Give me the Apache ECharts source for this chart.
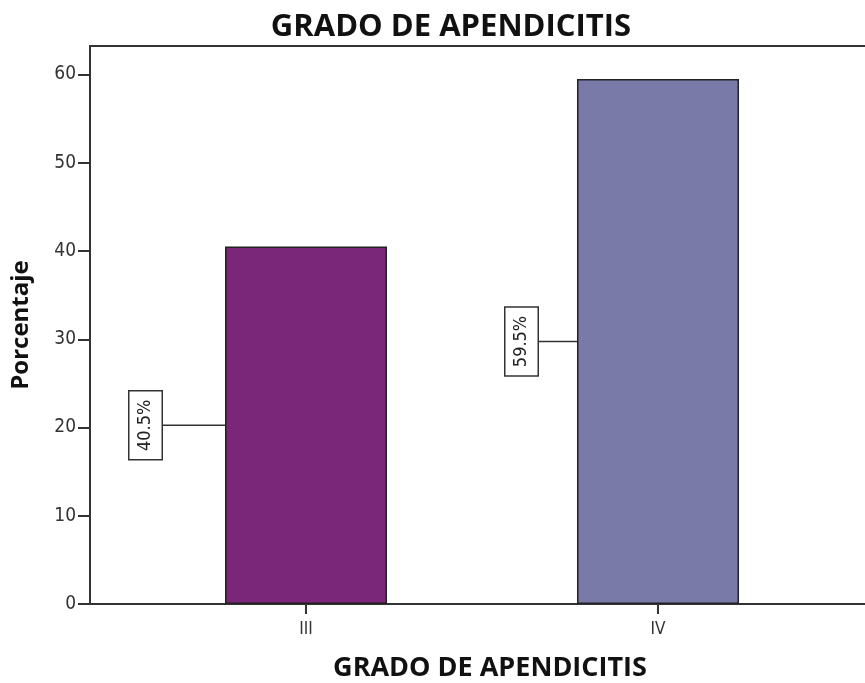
<!DOCTYPE html>
<html>
<head>
<meta charset="utf-8">
<script src="https://cdn.jsdelivr.net/npm/echarts@6/dist/echarts.min.js"></script>
<style>
  html, body { margin: 0; padding: 0; background: #fff; }
  #chart { width: 865px; height: 683px; }
</style>
</head>
<body>
<div id="chart"></div>
<script>
// Grado de apendicitis: porcentaje de pacientes por grado
const categories = ['III', 'IV'];
const percentages = [40.5, 59.5];
const barColors = ['#7a2779', '#797aa8'];
const yMin = 0;
const yMax = 60;
const yStep = 10;

// leader-line length (px) between each value box and its bar
const leaderLength = [63, 39];
const BAR_WIDTH = 162;
const AXIS_COLOR = '#333';
const LABEL_FONT = '"DejaVu Sans Condensed", "DejaVu Sans", sans-serif';
const TITLE_FONT = '"Open Sans", sans-serif';

const chart = echarts.init(document.getElementById('chart'), null, { renderer: 'canvas' });

// value box (rotated) with a leader line to the middle of its bar
function renderValueBox(params, api) {
  const idx = params.dataIndex;
  const v = api.value(1);
  const mid = api.coord([api.value(0), v / 2]);
  const barLeft = mid[0] - BAR_WIDTH / 2;
  const lineStart = barLeft - leaderLength[idx];
  const boxHalf = 16.5;
  return {
    type: 'group',
    children: [
      {
        type: 'line',
        shape: { x1: lineStart, y1: mid[1], x2: barLeft, y2: mid[1] },
        style: { stroke: '#333', lineWidth: 1.6 }
      },
      {
        type: 'text',
        x: lineStart - boxHalf,
        y: mid[1],
        rotation: Math.PI / 2,
        style: {
          text: v.toFixed(1) + '%',
          font: '18px ' + LABEL_FONT,
          fill: '#222',
          align: 'center',
          verticalAlign: 'middle',
          backgroundColor: '#fff',
          borderColor: '#333',
          borderWidth: 1.5,
          padding: [7, 8, 7, 8]
        }
      }
    ]
  };
}

const option = {
  backgroundColor: '#fff',
  animation: false,
  title: {
    text: 'GRADO DE APENDICITIS',
    left: 446,
    textAlign: 'center',
    top: 7,
    textStyle: { fontFamily: TITLE_FONT, fontWeight: 'bold', fontSize: 31, color: '#111' }
  },
  grid: [
    // outer frame of the plot area (its right side runs past the canvas)
    {
      left: 90, top: 46, width: 800, height: 558,
      containLabel: false, outerBoundsMode: 'none',
      show: true, borderColor: AXIS_COLOR, borderWidth: 2, backgroundColor: 'transparent'
    },
    // band layout for the two categories, 0..60 on the value scale
    { left: 130, top: 74.5, width: 704, height: 529.5, containLabel: false, outerBoundsMode: 'none' }
  ],
  xAxis: [
    {
      gridIndex: 0, type: 'value', min: 0, max: 1,
      axisLine: { show: false }, axisTick: { show: false }, axisLabel: { show: false }, splitLine: { show: false },
      name: 'GRADO DE APENDICITIS',
      nameLocation: 'middle',
      nameGap: 51,
      nameTextStyle: { fontFamily: TITLE_FONT, fontWeight: 'bold', fontSize: 27, color: '#111' }
    },
    {
      gridIndex: 1,
      type: 'category',
      data: categories,
      axisLine: { show: false },
      axisTick: { show: true, alignWithLabel: true, length: 10, lineStyle: { color: AXIS_COLOR, width: 2 } },
      axisLabel: { color: '#333', fontFamily: LABEL_FONT, fontSize: 17, margin: 17 }
    }
  ],
  yAxis: [
    {
      gridIndex: 0, type: 'value', min: 0, max: 1,
      axisLine: { show: false }, axisTick: { show: false }, axisLabel: { show: false }, splitLine: { show: false },
      name: 'Porcentaje',
      nameLocation: 'middle',
      nameGap: 57,
      nameTextStyle: { fontFamily: TITLE_FONT, fontWeight: 'bold', fontSize: 24, color: '#111' }
    },
    {
      gridIndex: 1,
      type: 'value',
      min: yMin,
      max: yMax,
      interval: yStep,
      offset: 40,
      axisLine: { show: false },
      axisTick: { show: true, length: 12, lineStyle: { color: AXIS_COLOR, width: 2 } },
      axisLabel: { color: '#333', fontFamily: LABEL_FONT, fontSize: 19, margin: 14 },
      splitLine: { show: false }
    }
  ],
  series: [
    {
      type: 'bar',
      xAxisIndex: 1,
      yAxisIndex: 1,
      barWidth: BAR_WIDTH,
      data: percentages.map((v, i) => ({
        value: v,
        itemStyle: { color: barColors[i], borderColor: '#222', borderWidth: 1.5 }
      }))
    },
    {
      type: 'custom',
      xAxisIndex: 1,
      yAxisIndex: 1,
      renderItem: renderValueBox,
      data: percentages.map((v, i) => [i, v]),
      z: 5
    }
  ]
};

chart.setOption(option);
</script>
</body>
</html>
